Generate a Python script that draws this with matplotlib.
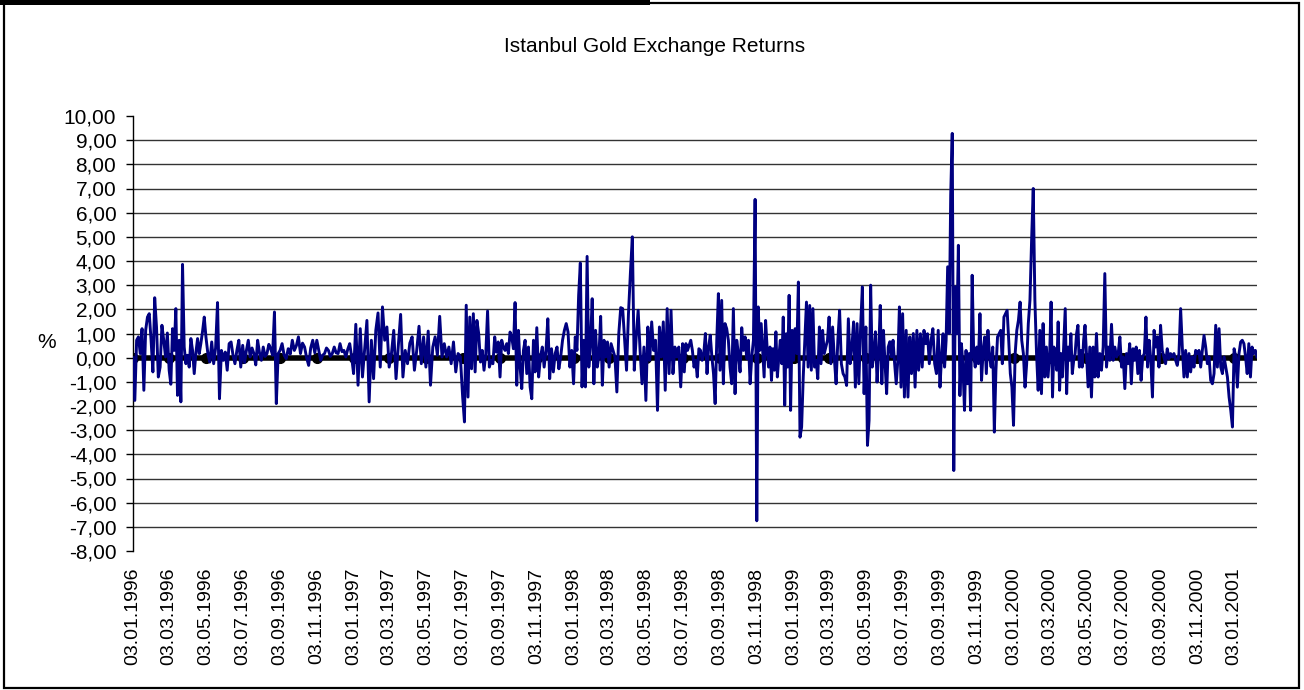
import numpy as np
import pandas as pd
import matplotlib
matplotlib.use('Agg')
import matplotlib.pyplot as plt
import matplotlib.dates as mdates
from matplotlib.ticker import FuncFormatter
from matplotlib.patches import Rectangle

# daily returns (%), one list per two-month block
ret_1996_01 = [0.00, -1.77, 0.72, 0.86, 0.17, 1.20, -1.35, 1.13, 1.68, 1.82, 0.72, -0.59, 2.48, 1.27, -0.80, -0.39, 1.34, 0.72, 0.03, 1.02]
ret_1996_03 = [-0.52, -1.10, 1.20, 0.30, 2.03, -1.56, 0.72, -1.83, 3.86, 0.44, -0.25, 0.10, -0.39, 0.79, 0.30, -0.66, 0.20, 0.79, 0.17, 0.60, 1.10, 1.68]
ret_1996_05 = [0.86, 0.17, -0.18, 0.65, -0.25, 0.40, 2.28, -1.70, 0.30, -0.11, 0.23, -0.52, 0.58, 0.65, 0.10, -0.25, 0.30, 0.72, -0.39]
ret_1996_07 = [0.51, -0.20, 0.30, 0.72, 0.03, 0.40, 0.17, -0.30, 0.72, 0.20, -0.11, 0.44, 0.05, 0.17, 0.55, 0.37, 0.10, 1.89, -1.90, 0.17]
ret_1996_09 = [0.30, 0.58, 0.10, -0.04, 0.37, 0.15, 0.72, 0.30, 0.50, 0.86, 0.17, 0.60, 0.44, 0.00, -0.32, 0.40, 0.72, 0.20]
ret_1996_11 = [0.72, 0.30, -0.11, 0.10, 0.17, 0.40, 0.30, 0.05, 0.17, 0.44, 0.20, 0.17, 0.58, 0.25, 0.30, 0.03, 0.35, 0.58, 0.03]
ret_1997_01 = [-0.66, 1.38, -1.14, 1.20, -0.80, 0.40, 1.54, -1.83, 0.72, -0.87, 1.13, 1.85, -0.39, 2.10, 0.72, 1.27]
ret_1997_03 = [-0.39, 0.17, 1.13, -0.87, 0.50, 1.79, -0.80, 0.30, -0.25, 0.60, 0.86, -0.52, 0.30, 1.30, -0.25, 0.86]
ret_1997_05 = [-0.39, 1.10, -1.14, 0.44, 0.86, 0.10, 1.71, 0.03, 0.58, 0.03, 0.44, -0.25, 0.65, -0.59, 0.17, 0.03]
ret_1997_07 = [-1.63, -2.66, 2.17, -1.63, 1.68, -0.46, 1.82, -0.59, 1.54, 1.00, -0.18, 0.30, -0.52, 0.17, 1.93, -0.39, -0.11, -0.25, 0.86, 0.23, 0.65]
ret_1997_09 = [-0.80, 0.72, 0.44, 0.30, 0.58, 0.17, 1.06, 0.86, 0.37, 2.28, -1.14, 1.13, -0.39, -1.28, 0.30, 0.72, -0.66, 0.44, -1.21, -1.70, 0.72, -0.59]
ret_1997_11 = [1.24, -0.80, 0.03, 0.44, -0.39, 0.30, 1.61, -0.87, 0.37, -0.59, 0.17, 0.44, -0.46, 0.03, 0.72, 1.13, 1.41, 1.06, -0.39, 0.30]
ret_1998_01 = [-1.08, 0.86, 0.30, 2.58, 3.92, -1.21, 0.72, -1.21, 4.19, -0.39, 0.58, 2.44, -1.08, 1.13, -0.39, 0.10, 1.71, -1.14, 0.72, 0.03, 0.65]
ret_1998_03 = [-0.39, 0.58, 0.30, 0.03, -1.42, 1.00, 2.07, 2.03, 0.72, -0.52, 1.82, 3.50, 5.00, -0.52, 0.86, 1.96, 0.30, -1.08, 0.44]
ret_1998_05 = [-1.77, 1.27, -0.11, 1.48, 0.30, 0.72, -2.18, 1.27, 0.03, 1.48, -1.35, 2.03, -0.66, 1.96, -0.66, 0.44, 0.03, 0.44, -1.21]
ret_1998_07 = [0.58, -0.59, 0.58, 0.30, 0.51, 0.72, 0.30, -0.39, -0.11, -0.80, 0.37, 0.30, -0.11, 0.17, 1.00, -0.66, 0.44, 0.93, 0.03, -0.66, -1.90, 0.72, 2.65]
ret_1998_09 = [-0.52, 2.37, -1.08, 1.41, 1.20, 0.72, -0.39, -1.08, 2.03, -1.49, 0.72, 0.17, -0.59, 1.24, 0.30, 0.86, -0.04, 0.72, -1.08, 0.03, 0.72, 6.55]
ret_1998_11 = [-6.75, 2.10, 0.30, 1.41, 0.30, -0.80, 1.54, 0.44, -0.39, 0.44, -0.94, 0.37, -0.52, 1.07, -0.80, 0.03, 0.72, -0.25, 1.68, -1.97, 0.99, -0.39, 2.58, -2.18, 1.13]
ret_1999_01 = [-0.11, 1.20, 0.17, 3.13, -3.29, -2.87, -0.80, 0.72, 2.30, -0.39, 2.16, -0.52, 2.03, -0.39, -0.11, -0.87, 1.27, -0.25, 1.13, 0.17, 0.44, 0.72]
ret_1999_03 = [1.68, -0.25, 1.27, -0.04, -1.08, 0.72, 1.96, -0.25, -0.66, -0.80, -1.15, 1.61, -0.25, 0.44, 1.48, -1.22, 1.41, -1.08, 1.27, 2.93, -1.49]
ret_1999_05 = [1.27, -3.63, -2.60, 3.00, -0.39, 0.17, 1.07, -1.01, 0.17, 2.16, -1.08, 1.13, -0.25, -1.49, 0.44, 0.66, 0.03, 0.72, -0.25, -1.08, -0.11, 2.10, -1.22]
ret_1999_07 = [1.82, -1.63, 1.13, -1.63, 0.86, -0.66, 1.00, -1.22, 1.13, -0.52, 0.99, -0.39, 1.13, 0.58, 0.99, -0.25, 0.72, 1.20, -0.25, -0.66, 1.13]
ret_1999_09 = [-1.22, 0.03, 0.99, -0.39, 0.72, 3.76, 1.00, 6.73, 9.28, -4.67, 2.93, 0.99, 4.65, -1.57, 0.58, -0.39, -2.18, 0.30, -1.08, 0.17, -2.18, 3.41, 0.17, -0.39]
ret_1999_11 = [0.44, -0.25, 1.82, -0.94, 0.30, 0.86, -0.66, 1.13, 0.03, -0.39, 0.44, -3.08, -0.52, 0.86, 0.99, 1.13, -0.25, 1.68, 1.82, 1.96, 0.72, -0.66, -1.22]
ret_2000_01 = [-2.80, 0.17, 1.13, 1.55, 2.30, 0.72, 0.17, -1.22, -0.25, 1.41, 2.38, 4.86, 7.00, 2.38, 0.17, -1.35, 1.13, -1.49, 1.41, -0.80, 0.44, -0.80]
ret_2000_03 = [0.17, 2.30, -1.63, 0.44, 0.17, -0.52, 1.48, -1.35, 0.17, -0.80, 0.58, 2.03, -1.49, 0.44, -0.11, 0.99, -0.66, -0.11, 0.17, 0.99, 1.34, -0.39, 0.30, -0.39, 0.72, 1.34]
ret_2000_05 = [0.17, -1.21, 0.44, -1.63, 0.44, -0.80, 1.00, -0.80, 0.17, -0.52, 0.44, 3.48, -0.39, 0.44, -0.11, 1.38, -0.11, 0.44, 0.03, 0.17, 0.86, -0.39]
ret_2000_07 = [0.03, -1.28, 0.17, -0.25, 0.58, -1.08, 0.37, -0.11, 0.44, -0.66, 0.30, -0.94, 0.03, 0.17, 1.68, -0.39, 0.72, -0.11, -1.63, 1.13, 0.44, 0.86, -0.39]
ret_2000_09 = [1.34, 0.30, 0.03, -0.25, 0.37, -0.04, 0.17, 0.03, 0.17, -0.11, -0.32, 0.17, 2.03, 0.44, -0.80, 0.30, -0.80, 0.17, -0.59, 0.03, -0.39, 0.30]
ret_2000_11 = [0.17, 0.30, -0.39, 0.30, 0.92, 0.44, -0.25, 0.03, -0.94, -1.08, -0.66, 1.34, -0.39, 1.20, -0.39, -0.66, 0.03, -0.39, -0.80, -1.63, -2.18, -2.87]
ret_2001_01 = [0.37, 0.03, -1.22, 0.17, 0.65, 0.72, 0.58, 0.03, -0.66, 0.58, -0.80, 0.44, 0.17, 0.30, 0.03]

blocks = [ret_1996_01, ret_1996_03, ret_1996_05, ret_1996_07, ret_1996_09, ret_1996_11,
          ret_1997_01, ret_1997_03, ret_1997_05, ret_1997_07, ret_1997_09, ret_1997_11,
          ret_1998_01, ret_1998_03, ret_1998_05, ret_1998_07, ret_1998_09, ret_1998_11,
          ret_1999_01, ret_1999_03, ret_1999_05, ret_1999_07, ret_1999_09, ret_1999_11,
          ret_2000_01, ret_2000_03, ret_2000_05, ret_2000_07, ret_2000_09, ret_2000_11,
          ret_2001_01]

first_day = '1996-01-03'
last_day = '2001-02-10'
block_starts = pd.date_range(first_day, periods=len(blocks), freq=pd.DateOffset(months=2))
block_ends = list(block_starts[1:]) + [pd.Timestamp(last_day)]

dates = []
values = []
for i, blk in enumerate(blocks):
    n = len(blk)
    last = (i == len(blocks) - 1)
    step = (block_ends[i] - block_starts[i]) / (n - 1 if last else n)
    for k in range(n):
        dates.append(block_starts[i] + step * k)
    values.extend(blk)

plt.rcParams['font.family'] = ['Liberation Sans', 'DejaVu Sans']

fig = plt.figure(figsize=(13.04, 6.9), dpi=100)
ax = fig.add_axes([133 / 1304, 1 - 551 / 690, (1257 - 133) / 1304, (551 - 116) / 690])

for v in range(-7, 10):
    ax.axhline(v, color='#333333', lw=1.0, zorder=1)

ax.axhline(0, color='black', lw=4, zorder=2)
ax.plot(block_starts, np.zeros(len(block_starts)), 'o', color='black', ms=7, zorder=2)
ax.plot(dates, values, color='#000080', lw=2.1, zorder=3)

ax.set_xlim(pd.Timestamp(first_day), pd.Timestamp(last_day))
ax.set_ylim(-8, 10)
ax.set_yticks(range(-8, 11))
ax.yaxis.set_major_formatter(FuncFormatter(lambda v, p: ('%.2f' % v).replace('.', ',')))
ax.set_xticks(block_starts)
ax.xaxis.set_major_formatter(mdates.DateFormatter('%d.%m.%Y'))
ax.tick_params(axis='y', direction='out', length=5, width=1, labelsize=15, pad=7)
ax.tick_params(axis='x', length=0, labelsize=14, pad=12, labelrotation=90)

for s in ['top', 'right', 'bottom']:
    ax.spines[s].set_visible(False)
ax.spines['left'].set_linewidth(1)

fig.text(47 / 1304, 1 - 342 / 690, '%', fontsize=15, ha='center', va='center')
fig.text(655 / 1304, 1 - 47 / 690, 'Istanbul Gold Exchange Returns', fontsize=15,
         ha='center', va='center')

# outer frame of the chart
fig.patches.append(Rectangle((4 / 1304, 2 / 690), 1295 / 1304, 685 / 690,
                             transform=fig.transFigure, fill=False, lw=1.6, ec='black'))
fig.patches.append(Rectangle((0, 685 / 690), 650 / 1304, 5 / 690,
                             transform=fig.transFigure, color='black', lw=0))

fig.savefig('out.png', dpi=100)
